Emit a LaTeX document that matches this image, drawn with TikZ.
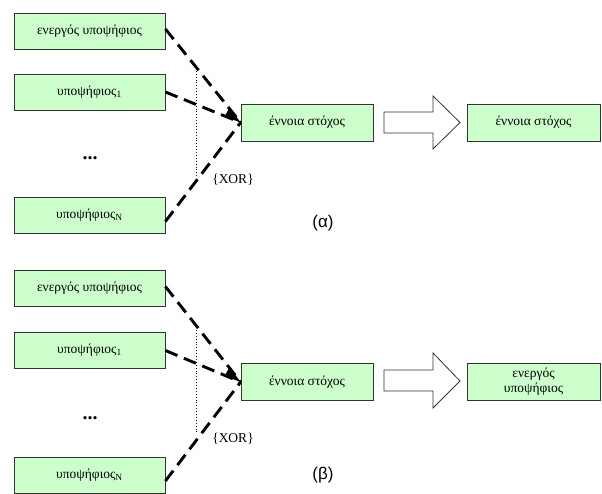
\documentclass[tikz,border=0pt]{standalone}
\usepackage{fontspec}
\setmainfont{Liberation Serif}
\newfontfamily\labfont{Liberation Sans}
\newfontfamily\txtfont{Liberation Serif}
\usetikzlibrary{arrows.meta}
\definecolor{boxgreen}{HTML}{CCFFCC}
\begin{document}
\begin{tikzpicture}[x=1pt,y=-1pt,
  gbox/.style={draw=black!80,line width=0.8pt,fill=boxgreen,minimum height=36pt,inner sep=1pt,font=\txtfont\fontsize{13.5}{15}\selectfont,align=center},
  cand/.style={gbox,minimum width=151pt},
  targ/.style={gbox,minimum width=132pt,minimum height=37pt},
  dashline/.style={line width=2.9pt,dash pattern=on 13pt off 7pt},
  bigarrow/.style={draw=black!80,line width=0.8pt,fill=white},
  xorlab/.style={font=\txtfont\fontsize{13.5}{15}\selectfont},
  dotlab/.style={font=\txtfont\bfseries\fontsize{20}{22}\selectfont},
  captext/.style={font=\labfont\fontsize{17}{19}\selectfont}
]
\useasboundingbox (0,0) rectangle (602,494);
% ---------- (a)
\node[cand] (a1) at (89.5,31) {ενεργός υποψήφιος};
\node[cand] (a2) at (89.5,92) {υποψήφιος\textsubscript{1}};
\node[dotlab] (adots) at (90,158) {...};
\node[cand] (aN) at (89.5,215.5) {υποψήφιος\textsubscript{N}};
\node[targ] (at) at (307,122.5) {έννοια στόχος};
\node[targ,minimum width=133pt] (ar) at (533.5,122.5) {έννοια στόχος};
\coordinate (ain) at (at.west);
\draw[dashline] (a1.east) ++(0,-2) coordinate (a1s) -- (ain);
\draw[dashline] (a2.east) -- (ain);
\draw[dashline] (aN.east) ++(0,6) -- (ain);
\fill (ain) -- ++(-16,-6) -- ++(5,-9) -- cycle;
\coordinate (adt) at (196,68);
\coordinate (adb) at (196,178);
\draw[dotted,line width=0.9pt] (adt) -- (adb);
\node[xorlab] (axor) at (233,180) {\{XOR\}};
\draw[bigarrow] (384,112) -- (433,112) -- (433,96) -- (460,122.5) -- (433,149) -- (433,133) -- (384,133) -- cycle;
\node[captext] (acap) at (323,223) {(α)};
% ---------- (b)
\node[cand] (b1) at (89.5,288.5) {ενεργός υποψήφιος};
\node[cand] (b2) at (89.5,350.5) {υποψήφιος\textsubscript{1}};
\node[dotlab] (bdots) at (90,418) {...};
\node[cand] (bN) at (89.5,475) {υποψήφιος\textsubscript{N}};
\node[targ] (bt) at (307,382) {έννοια στόχος};
\node[targ,minimum width=133pt] (br) at (533.5,382) {ενεργός\\υποψήφιος};
\coordinate (bin) at (bt.west);
\draw[dashline] (b1.east) ++(0,-2) -- (bin);
\draw[dashline] (b2.east) -- (bin);
\draw[dashline] (bN.east) ++(0,6) -- (bin);
\fill (bin) -- ++(-16,-6) -- ++(5,-9) -- cycle;
\coordinate (bdt) at (196,327);
\coordinate (bdb) at (196,434);
\draw[dotted,line width=0.9pt] (bdt) -- (bdb);
\node[xorlab] (bxor) at (233,439) {\{XOR\}};
\draw[bigarrow] (384,370) -- (433,370) -- (433,353) -- (460,381) -- (433,408) -- (433,391) -- (384,391) -- cycle;
\node[captext] (bcap) at (323,475) {(β)};
\end{tikzpicture}
\end{document}
